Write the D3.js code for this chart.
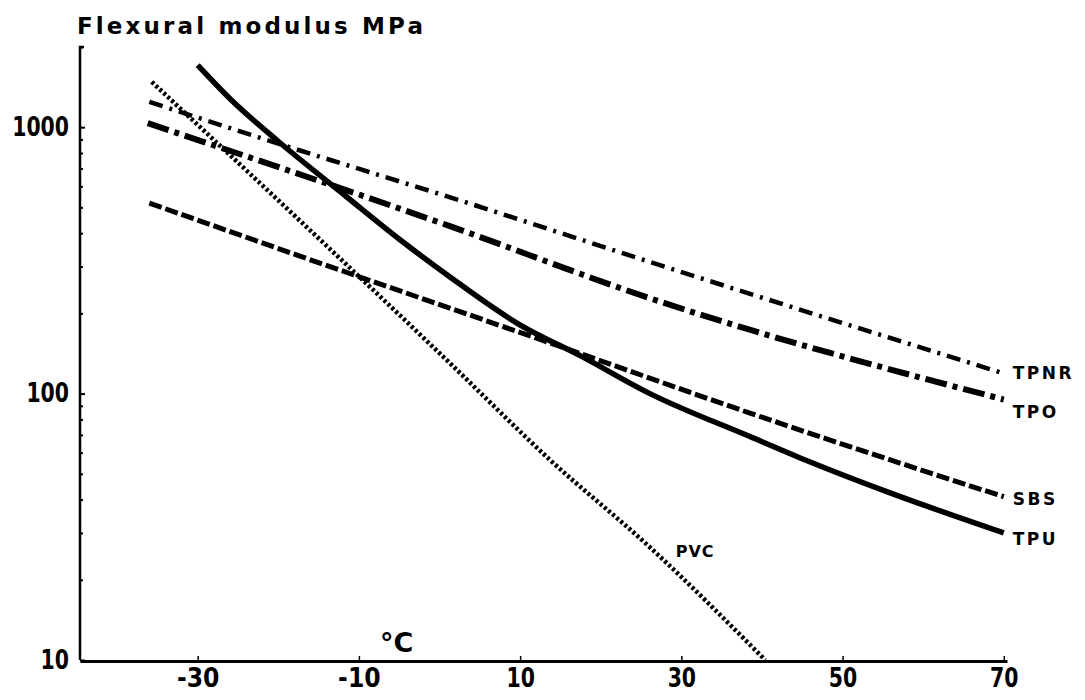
<!DOCTYPE html>
<html>
<head>
<meta charset="utf-8">
<script src="https://cdn.jsdelivr.net/npm/d3@7"></script>
<style>
  body { margin: 0; background: #fff; }
  svg { display: block; }
  .num { font-family: "DejaVu Sans", "Liberation Sans", sans-serif; font-weight: bold; font-size: 26px; fill: #000; }
  .lab { font-family: "DejaVu Sans", "Liberation Sans", sans-serif; font-weight: bold; fill: #000; }
</style>
</head>
<body>
<div id="chart"></div>
<script>
// temperatures (°C) and flexural modulus (MPa)
const tpuT = [-30, -25.6, -20.2, -11.5, -4.9, 1.3, 9.6, 17.8, 26.1, 38.5, 45.6, 55.9, 70];
const tpuE = [1710, 1245, 895, 547, 378, 274, 184, 137, 100, 69, 56, 42.4, 30];

const sbsT = [-36, -17.3, 13.7, 38.5, 70];
const sbsE = [519, 328, 155, 84.5, 41];

const tpoT = [-36.2, 1.3, 26.1, 70];
const tpoE = [1035, 425, 228, 95];

const tpnrT = [-36, -21.4, 2.2, 26.1, 70];
const tpnrE = [1245, 895, 535, 312, 119];

const pvcT = [-35.7, 1.3, 13.7, 26.1, 40.4];
const pvcE = [1480, 130, 56.4, 26.5, 10];

const seriesNames = ["TPNR", "TPO", "SBS", "TPU", "PVC"];
const xTicks = [-30, -10, 10, 30, 50, 70];
const yTicks = [10, 100, 1000];

const width = 1085, height = 700;

const svg = d3.select("#chart").append("svg")
    .attr("width", width)
    .attr("height", height);

const x = d3.scaleLinear().domain([-44.6, 70.4]).range([80, 1007]);
const y = d3.scaleLog().domain([10, 2000]).range([660, 47]);

// minor log ticks on the y axis
const minor = [];
[10, 100, 1000].forEach(d => {
    for (let k = 2; k <= 9; k++) if (d * k <= 2000) minor.push(d * k);
});

svg.append("g")
    .attr("transform", "translate(80,0)")
    .call(d3.axisRight(y).tickValues(minor).tickSize(3).tickFormat(""))
    .call(g => g.select(".domain").remove())
    .call(g => g.selectAll("line").attr("stroke-width", 2));

svg.append("g")
    .attr("transform", "translate(80,0)")
    .call(d3.axisRight(y).tickValues(yTicks).tickSize(5).tickFormat(""))
    .call(g => g.select(".domain").remove())
    .call(g => g.selectAll("line").attr("stroke-width", 2));

// condensed look for the numbers: squeeze each label to the printed width
const squeeze = sel => sel
    .attr("class", "num").attr("font-size", null).attr("font-family", null)
    .attr("textLength", function() { return this.textContent.length * 14.2; })
    .attr("lengthAdjust", "spacingAndGlyphs");

const yAxis = svg.append("g")
    .attr("transform", "translate(80,0)")
    .call(d3.axisLeft(y).tickValues(yTicks).tickSize(0).tickPadding(11).tickFormat(d => String(d)));
yAxis.select(".domain").attr("stroke-width", 2.5).attr("d", "M4,47H0V660");
yAxis.selectAll("text").call(squeeze);

const xAxis = svg.append("g")
    .attr("transform", "translate(0,661)")
    .call(d3.axisBottom(x).tickValues(xTicks).tickSizeInner(-5).tickSizeOuter(0).tickPadding(8)
        .tickFormat(d => String(d)));
xAxis.select(".domain").attr("stroke-width", 3);
xAxis.selectAll("line").attr("stroke-width", 1.5);
xAxis.selectAll("text").call(squeeze);

const line = d3.line()
    .x(d => x(d[0]))
    .y(d => y(d[1]))
    .curve(d3.curveMonotoneX);

const series = [
    { name: "TPNR", t: tpnrT, e: tpnrE, w: 4.5, dash: "14,7,3,7", dy: 6 },
    { name: "TPO",  t: tpoT,  e: tpoE,  w: 6,   dash: "22,6,5,6", dy: 18 },
    { name: "SBS",  t: sbsT,  e: sbsE,  w: 5,   dash: "13,4", dy: 8 },
    { name: "TPU",  t: tpuT,  e: tpuE,  w: 5.5, dash: null, dy: 12 },
    { name: "PVC",  t: pvcT,  e: pvcE,  w: 4.5, dash: "3,2.4", dy: 0 }
];

series.forEach(s => {
    const pts = s.t.map((t, i) => [t, s.e[i]]);
    svg.append("path")
        .datum(pts)
        .attr("fill", "none")
        .attr("stroke", "#000")
        .attr("stroke-width", s.w)
        .attr("stroke-dasharray", s.dash)
        .attr("d", line);
    if (s.name !== "PVC") {
        const last = pts[pts.length - 1];
        svg.append("text")
            .attr("class", "lab")
            .attr("x", x(last[0]) + 9)
            .attr("y", y(last[1]) + s.dy)
            .attr("font-size", 17)
            .attr("letter-spacing", 2.5)
            .text(s.name);
    }
});

// PVC label sits beside its line
svg.append("text")
    .attr("class", "lab")
    .attr("x", x(29.3))
    .attr("y", y(24.4))
    .attr("font-size", 16)
    .attr("letter-spacing", 1)
    .text("PVC");

// unit on the x axis
svg.append("text")
    .attr("class", "lab")
    .attr("x", 380)
    .attr("y", 652)
    .attr("font-size", 27)
    .text("°C");

// y axis title
svg.append("text")
    .attr("class", "lab")
    .attr("x", 77)
    .attr("y", 34)
    .attr("font-size", 23)
    .attr("textLength", 346)
    .attr("lengthAdjust", "spacing")
    .text("Flexural  modulus MPa");
</script>
</body>
</html>
